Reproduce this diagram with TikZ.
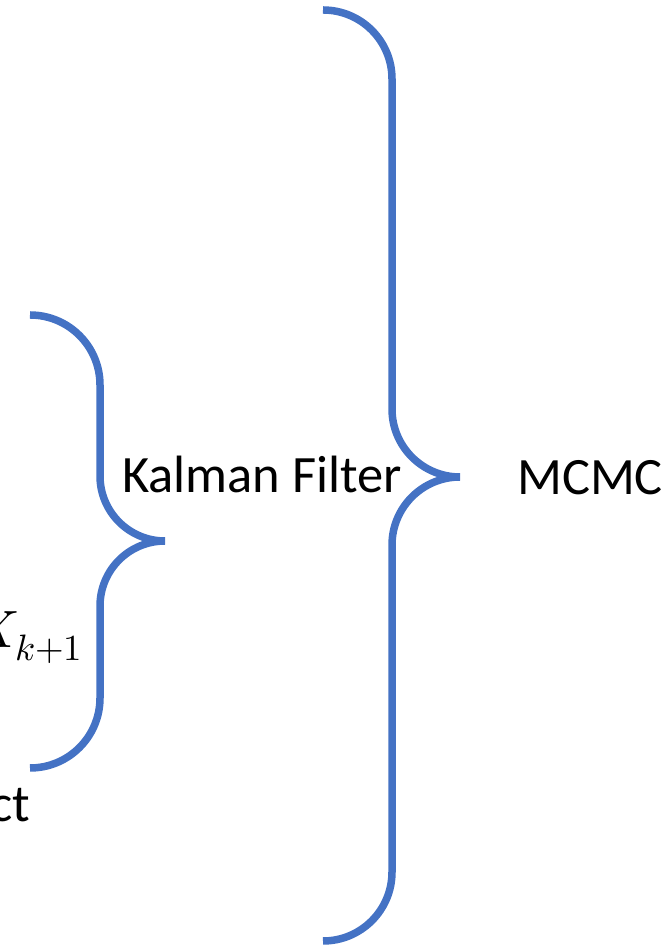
\documentclass[tikz,border=0pt]{standalone}
\usepackage{unicode-math}
\setmainfont{Carlito}
\setmathfont{Latin Modern Math}
\begin{document}
\begin{tikzpicture}[x=1pt,y=1pt,
  brace/.style={draw={rgb,255:red,68;green,114;blue,196},line width=7.5pt},
  lbl/.style={inner sep=0pt,font=\fontsize{52.5}{62}\selectfont}]
\useasboundingbox (0,0) rectangle (669,947);
% big brace
\coordinate (bt) at (323,937);
\draw[brace] (bt) arc[start angle=90,end angle=0,radius=69] -- (392,538)
  arc[start angle=180,end angle=270,radius=68] coordinate (btip)
  arc[start angle=90,end angle=180,radius=68] -- (392,75)
  arc[start angle=0,end angle=-90,radius=69];
% small brace
\coordinate (st) at (30,632);
\draw[brace] (st) arc[start angle=90,end angle=0,radius=70] -- (100,471)
  arc[start angle=180,end angle=270,radius=65] coordinate (stip)
  arc[start angle=90,end angle=180,radius=65] -- (100,249)
  arc[start angle=0,end angle=-90,radius=70];
\node[lbl,anchor=base west] (kf) at (122,454) {Kalman Filter};
\node[lbl,anchor=base west] (mc) at (517,452) {MCMC};
\node[lbl,anchor=base east] (xk) at (83,299) {$X_{k+1}$};
\node[lbl,anchor=base east] (ct) at (30,125) {ct};
\end{tikzpicture}
\end{document}
